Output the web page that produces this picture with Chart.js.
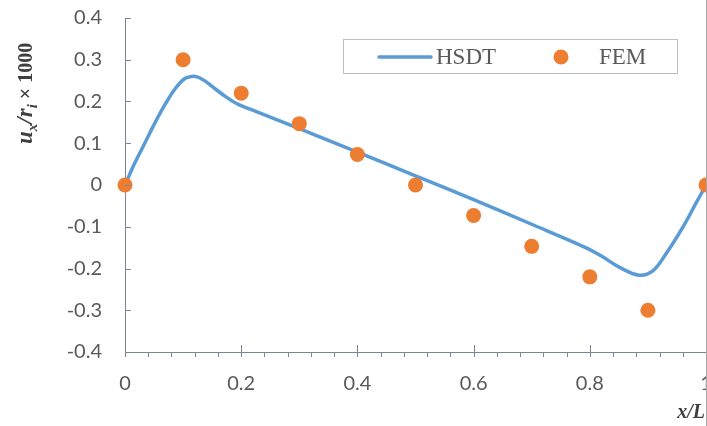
<!DOCTYPE html>
<html>
<head>
<meta charset="utf-8">
<script src="https://cdn.jsdelivr.net/npm/chart.js@4/dist/chart.umd.min.js"></script>
<style>
  html, body { margin: 0; padding: 0; background: #fff; }
  #wrap { position: relative; width: 707px; height: 426px; overflow: hidden; }
  #edge { position: absolute; left: 706px; top: 0; width: 1px; height: 426px; background: #a6a6a6; }
</style>
</head>
<body>
<div id="wrap">
  <canvas id="grafico" width="740" height="426" style="width:740px;height:426px"></canvas>
  <div id="edge"></div>
</div>
<script>
// HSDT curve
const hsdtX = [0, 0.017, 0.034, 0.052, 0.069, 0.086, 0.103, 0.116, 0.124, 0.132, 0.14, 0.148, 0.172, 0.195, 0.224,
               0.3, 0.4, 0.5, 0.6, 0.7, 0.79, 0.82, 0.852, 0.885, 0.909, 0.932, 0.961, 0.983, 1.0];
const hsdtY = [0, 0.053, 0.10, 0.15, 0.193, 0.23, 0.255, 0.26, 0.259, 0.254, 0.247, 0.238, 0.213, 0.193, 0.177,
               0.135, 0.079, 0.022, -0.035, -0.094, -0.148, -0.17, -0.198, -0.216, -0.205, -0.163, -0.099, -0.043, 0];

// FEM points
const femX = [0, 0.1, 0.2, 0.3, 0.4, 0.5, 0.6, 0.7, 0.8, 0.9, 1.0];
const femY = [0, 0.3, 0.22, 0.147, 0.073, 0, -0.073, -0.147, -0.22, -0.3, 0];

// axes
const yTicks = [-0.4, -0.3, -0.2, -0.1, 0, 0.1, 0.2, 0.3, 0.4];

const corAxis = '#7a8596';
const corTexto = '#595959';

function rotulo(v){
    const r = Math.round(v * 10) / 10;
    return r === 0 ? '0' : String(r);
}

// ticks: y inward, x major crossing, x minor outward
const tracos = {
    id: 'tracos',
    afterDraw(chart){
        const ctx = chart.ctx;
        const xs = chart.scales.x, ys = chart.scales.y;
        const a = chart.chartArea;
        ctx.save();
        ctx.strokeStyle = corAxis;
        ctx.lineWidth = 1;
        ctx.beginPath();
        yTicks.forEach(v => {
            const py = Math.round(ys.getPixelForValue(v)) + 0.5;
            ctx.moveTo(a.left, py);
            ctx.lineTo(a.left + 6, py);
        });
        xs.ticks.forEach(t => {
            const px = Math.round(xs.getPixelForValue(t.value)) + 0.5;
            const major = Math.round(t.value * 100) % 20 === 0;
            ctx.moveTo(px, a.bottom + 5);
            ctx.lineTo(px, major ? a.bottom - 7 : a.bottom);
        });
        ctx.stroke();
        ctx.restore();
    }
};

// legend box, axis titles
const extras = {
    id: 'extras',
    afterDraw(chart){
        const ctx = chart.ctx;
        ctx.save();

        // legend
        ctx.strokeStyle = '#bfbfbf';
        ctx.lineWidth = 1;
        ctx.strokeRect(343.5, 39.5, 334, 34);
        ctx.strokeStyle = '#5b9bd5';
        ctx.lineWidth = 3.5;
        ctx.lineCap = 'round';
        ctx.beginPath();
        ctx.moveTo(379, 57);
        ctx.lineTo(431, 57);
        ctx.stroke();
        ctx.fillStyle = '#ed7d31';
        ctx.beginPath();
        ctx.arc(561, 57, 7.5, 0, Math.PI * 2);
        ctx.fill();
        ctx.fillStyle = corTexto;
        ctx.font = '23px "Liberation Serif"';
        ctx.textBaseline = 'middle';
        ctx.textAlign = 'left';
        ctx.fillText('HSDT', 436, 58);
        ctx.fillText('FEM', 599, 58);

        // x title
        ctx.fillStyle = '#3f3f3f';
        ctx.font = 'italic bold 20px "Liberation Serif"';
        ctx.textAlign = 'right';
        ctx.textBaseline = 'alphabetic';
        ctx.fillText('x/L', 705, 418);

        // y title
        ctx.translate(32, 144);
        ctx.rotate(-Math.PI / 2);
        const partes = [
            ['italic bold 23px "Liberation Serif"', 'u', 0],
            ['italic bold 15px "Liberation Serif"', 'x', 5],
            ['italic bold 23px "Liberation Serif"', '/r', 0],
            ['italic bold 15px "Liberation Serif"', 'i', 5],
            ['bold 20px "Liberation Serif"', ' \u00d7 1000', 0]
        ];
        let px = 0;
        ctx.textAlign = 'left';
        partes.forEach(p => {
            ctx.font = p[0];
            ctx.fillText(p[1], px, p[2]);
            px += ctx.measureText(p[1]).width;
        });
        ctx.restore();
    }
};

new Chart(
    document.getElementById('grafico'),
    {
    type: 'scatter',
    data: {
        datasets: [
            {
                label: 'HSDT',
                data: hsdtX.map((x, i) => ({ x: x, y: hsdtY[i] })),
                showLine: true,
                borderColor: '#5b9bd5',
                borderWidth: 3.5,
                pointRadius: 0,
                tension: 0.35,
                order: 2
            },
            {
                label: 'FEM',
                data: femX.map((x, i) => ({ x: x, y: femY[i] })),
                showLine: false,
                backgroundColor: '#ed7d31',
                borderWidth: 0,
                pointRadius: 7.5,
                order: 1
            }
        ]
    },
    options: {
        responsive: false,
        animation: false,
        clip: false,
        layout: { padding: { top: 18, right: 34, bottom: 0, left: 0 } },
        plugins: { legend: { display: false }, tooltip: { enabled: false } },
        scales: {
            x: {
                type: 'linear',
                min: 0, max: 1,
                afterFit: s => { s.height = 74; },
                grid: { drawOnChartArea: false, drawTicks: false },
                border: { color: corAxis },
                ticks: {
                    stepSize: 0.04,
                    autoSkip: false,
                    maxRotation: 0,
                    padding: 20,
                    color: corTexto,
                    font: { family: 'Lato', size: 20 },
                    callback: v => Math.round(v * 100) % 20 === 0 ? rotulo(v) : ''
                }
            },
            y: {
                min: -0.4, max: 0.4,
                afterFit: s => { s.width = 125; },
                grid: { drawOnChartArea: false, drawTicks: true, tickLength: 23, tickColor: 'rgba(0,0,0,0)' },
                border: { color: corAxis },
                ticks: {
                    stepSize: 0.1,
                    padding: 0,
                    color: corTexto,
                    font: { family: 'Lato', size: 20 },
                    callback: v => rotulo(v)
                }
            }
        }
    },
    plugins: [tracos, extras]
    }
);
</script>
</body>
</html>
